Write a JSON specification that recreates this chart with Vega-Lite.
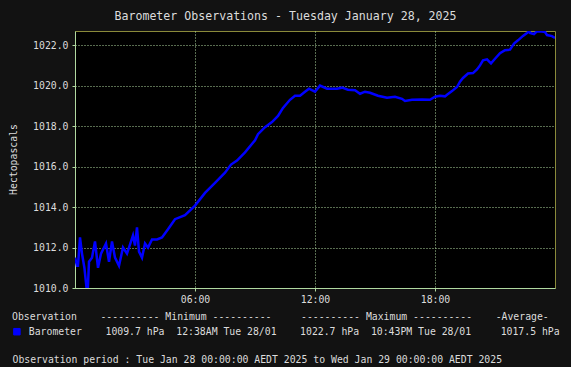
{
  "$schema": "https://vega.github.io/schema/vega-lite/v6.json",
  "width": 480,
  "height": 257,
  "autosize": {"type": "none"},
  "padding": {"left": 75, "top": 31, "right": 16, "bottom": 79},
  "background": "#121212",
  "title": {
    "text": "Barometer Observations - Tuesday January 28, 2025",
    "font": "DejaVu Sans Mono",
    "fontSize": 11.6,
    "fontWeight": "normal",
    "color": "#dcdcdc",
    "anchor": "middle",
    "dx": -29.5,
    "dy": 12,
    "offset": 9,
    "baseline": "bottom"
  },
  "config": {
    "font": "DejaVu Sans Mono",
    "view": {"fill": "#000000", "stroke": "#8a8a3a", "strokeWidth": 1}
  },
  "data": {
    "values": [
      {"hour": 0.0, "hPa": 1011.5},
      {"hour": 0.1, "hPa": 1011.1},
      {"hour": 0.15, "hPa": 1011.1},
      {"hour": 0.25, "hPa": 1012.5},
      {"hour": 0.35, "hPa": 1011.7},
      {"hour": 0.47, "hPa": 1011.0},
      {"hour": 0.6, "hPa": 1009.8},
      {"hour": 0.63, "hPa": 1009.7},
      {"hour": 0.7, "hPa": 1011.3},
      {"hour": 0.85, "hPa": 1011.5},
      {"hour": 1.0, "hPa": 1012.3},
      {"hour": 1.15, "hPa": 1011.0},
      {"hour": 1.3, "hPa": 1011.7},
      {"hour": 1.55, "hPa": 1012.2},
      {"hour": 1.7, "hPa": 1011.3},
      {"hour": 1.85, "hPa": 1012.3},
      {"hour": 2.0, "hPa": 1011.5},
      {"hour": 2.2, "hPa": 1011.1},
      {"hour": 2.4, "hPa": 1012.0},
      {"hour": 2.6, "hPa": 1011.7},
      {"hour": 2.9, "hPa": 1012.6},
      {"hour": 3.0, "hPa": 1012.1},
      {"hour": 3.1, "hPa": 1013.0},
      {"hour": 3.2, "hPa": 1011.8},
      {"hour": 3.35, "hPa": 1011.5},
      {"hour": 3.5, "hPa": 1012.2},
      {"hour": 3.65, "hPa": 1012.0},
      {"hour": 3.85, "hPa": 1012.4},
      {"hour": 4.1, "hPa": 1012.4},
      {"hour": 4.35, "hPa": 1012.5},
      {"hour": 4.65, "hPa": 1012.9},
      {"hour": 5.0, "hPa": 1013.4},
      {"hour": 5.5, "hPa": 1013.6},
      {"hour": 6.0, "hPa": 1014.07},
      {"hour": 6.5, "hPa": 1014.7},
      {"hour": 7.0, "hPa": 1015.2},
      {"hour": 7.5, "hPa": 1015.7},
      {"hour": 7.8, "hPa": 1016.1},
      {"hour": 8.1, "hPa": 1016.3},
      {"hour": 8.5, "hPa": 1016.7},
      {"hour": 9.0, "hPa": 1017.3},
      {"hour": 9.15, "hPa": 1017.6},
      {"hour": 9.5, "hPa": 1017.95},
      {"hour": 9.85, "hPa": 1018.2},
      {"hour": 10.15, "hPa": 1018.5},
      {"hour": 10.4, "hPa": 1018.9},
      {"hour": 10.75, "hPa": 1019.3},
      {"hour": 11.0, "hPa": 1019.5},
      {"hour": 11.25, "hPa": 1019.5},
      {"hour": 11.5, "hPa": 1019.7},
      {"hour": 11.7, "hPa": 1019.85},
      {"hour": 12.0, "hPa": 1019.7},
      {"hour": 12.25, "hPa": 1020.0},
      {"hour": 12.6, "hPa": 1019.85},
      {"hour": 13.1, "hPa": 1019.85},
      {"hour": 13.35, "hPa": 1019.9},
      {"hour": 13.65, "hPa": 1019.8},
      {"hour": 14.0, "hPa": 1019.77},
      {"hour": 14.25, "hPa": 1019.6},
      {"hour": 14.5, "hPa": 1019.7},
      {"hour": 14.75, "hPa": 1019.65},
      {"hour": 15.15, "hPa": 1019.5},
      {"hour": 15.6, "hPa": 1019.4},
      {"hour": 16.0, "hPa": 1019.45},
      {"hour": 16.35, "hPa": 1019.35},
      {"hour": 16.5, "hPa": 1019.24},
      {"hour": 16.85, "hPa": 1019.3},
      {"hour": 17.35, "hPa": 1019.32},
      {"hour": 17.75, "hPa": 1019.3},
      {"hour": 18.0, "hPa": 1019.45},
      {"hour": 18.25, "hPa": 1019.5},
      {"hour": 18.5, "hPa": 1019.47},
      {"hour": 18.6, "hPa": 1019.55},
      {"hour": 18.85, "hPa": 1019.73},
      {"hour": 19.1, "hPa": 1019.93},
      {"hour": 19.25, "hPa": 1020.2},
      {"hour": 19.4, "hPa": 1020.38},
      {"hour": 19.65, "hPa": 1020.6},
      {"hour": 19.9, "hPa": 1020.62},
      {"hour": 20.1, "hPa": 1020.8},
      {"hour": 20.25, "hPa": 1021.0},
      {"hour": 20.4, "hPa": 1021.25},
      {"hour": 20.6, "hPa": 1021.3},
      {"hour": 20.8, "hPa": 1021.1},
      {"hour": 21.0, "hPa": 1021.33},
      {"hour": 21.25, "hPa": 1021.6},
      {"hour": 21.5, "hPa": 1021.75},
      {"hour": 21.75, "hPa": 1021.78},
      {"hour": 21.95, "hPa": 1022.08},
      {"hour": 22.15, "hPa": 1022.24},
      {"hour": 22.4, "hPa": 1022.46},
      {"hour": 22.6, "hPa": 1022.6},
      {"hour": 22.72, "hPa": 1022.7},
      {"hour": 22.75, "hPa": 1022.6},
      {"hour": 22.95, "hPa": 1022.55},
      {"hour": 23.1, "hPa": 1022.68},
      {"hour": 23.35, "hPa": 1022.68},
      {"hour": 23.5, "hPa": 1022.65},
      {"hour": 23.6, "hPa": 1022.5},
      {"hour": 23.85, "hPa": 1022.45},
      {"hour": 24.0, "hPa": 1022.36}
    ]
  },
  "mark": {"type": "line", "strokeWidth": 2.5, "clip": true, "strokeJoin": "miter"},
  "encoding": {
    "x": {
      "field": "hour",
      "type": "quantitative",
      "scale": {"domain": [0, 24], "nice": false, "zero": false},
      "axis": {
        "values": [6, 12, 18],
        "labelExpr": "(datum.value < 10 ? '0' : '') + datum.value + ':00'",
        "labelFont": "DejaVu Sans Mono",
        "labelFontSize": 9.8,
        "labelColor": "#dcdcdc",
        "labelPadding": 3,
        "tickSize": 3,
        "tickColor": "#b0d8a0",
        "domainColor": "#b0d8a0",
        "grid": true,
        "gridColor": "#b0d8a0",
        "gridDash": [1, 2],
        "gridOpacity": 1,
        "title": "Observation period : Tue Jan 28 00:00:00 AEDT 2025 to Wed Jan 29 00:00:00 AEDT 2025",
        "titleFont": "DejaVu Sans Mono",
        "titleFontSize": 9.8,
        "titleFontWeight": "normal",
        "titleColor": "#dcdcdc",
        "titleAlign": "left",
        "titleAnchor": "start",
        "titleBaseline": "middle",
        "titleX": -63,
        "titleY": 71
      }
    },
    "y": {
      "field": "hPa",
      "type": "quantitative",
      "scale": {"domain": [1010, 1022.7], "nice": false, "zero": false},
      "axis": {
        "values": [1010, 1012, 1014, 1016, 1018, 1020, 1022],
        "format": ".1f",
        "labelFont": "DejaVu Sans Mono",
        "labelFontSize": 9.8,
        "labelColor": "#dcdcdc",
        "labelPadding": 4,
        "tickSize": 3,
        "tickColor": "#b0d8a0",
        "domainColor": "#b0d8a0",
        "grid": true,
        "gridColor": "#b0d8a0",
        "gridDash": [1, 2],
        "gridOpacity": 1,
        "title": "Hectopascals",
        "titleFont": "DejaVu Sans Mono",
        "titleFontSize": 9.8,
        "titleFontWeight": "normal",
        "titleColor": "#dcdcdc",
        "titleBaseline": "middle",
        "titleX": -62,
        "titleY": 128
      }
    },
    "color": {
      "datum": "Barometer",
      "type": "nominal",
      "scale": {"range": ["#0000ff"]},
      "legend": {
        "orient": "none",
        "legendX": -63,
        "legendY": 281,
        "padding": 0,
        "offset": 0,
        "title": "Observation\u00a0\u00a0\u00a0\u00a0----------\u00a0Minimum\u00a0----------\u00a0\u00a0\u00a0\u00a0\u00a0----------\u00a0Maximum\u00a0----------\u00a0\u00a0\u00a0\u00a0-Average-",
        "titleFont": "DejaVu Sans Mono",
        "titleFontSize": 9.8,
        "titleFontWeight": "normal",
        "titleColor": "#dcdcdc",
        "titleAlign": "left",
        "titleAnchor": "start",
        "titlePadding": 5,
        "titleLimit": 600,
        "labelLimit": 600,
        "labelFont": "DejaVu Sans Mono",
        "labelFontSize": 9.8,
        "labelColor": "#dcdcdc",
        "labelOffset": 7,
        "labelExpr": "'Barometer\u00a0\u00a0\u00a0\u00a01009.7\u00a0hPa\u00a0\u00a012:38AM\u00a0Tue\u00a028/01\u00a0\u00a0\u00a0\u00a01022.7\u00a0hPa\u00a0\u00a010:43PM\u00a0Tue\u00a028/01\u00a0\u00a0\u00a0\u00a0\u00a01017.5\u00a0hPa'",
        "encode": {
          "symbols": {
            "update": {
              "shape": {"value": "square"},
              "size": {"value": 42},
              "fill": {"value": "#0000ff"},
              "stroke": {"value": "#cccccc"},
              "strokeWidth": {"value": 1},
              "opacity": {"value": 1}
            }
          }
        }
      }
    }
  }
}
